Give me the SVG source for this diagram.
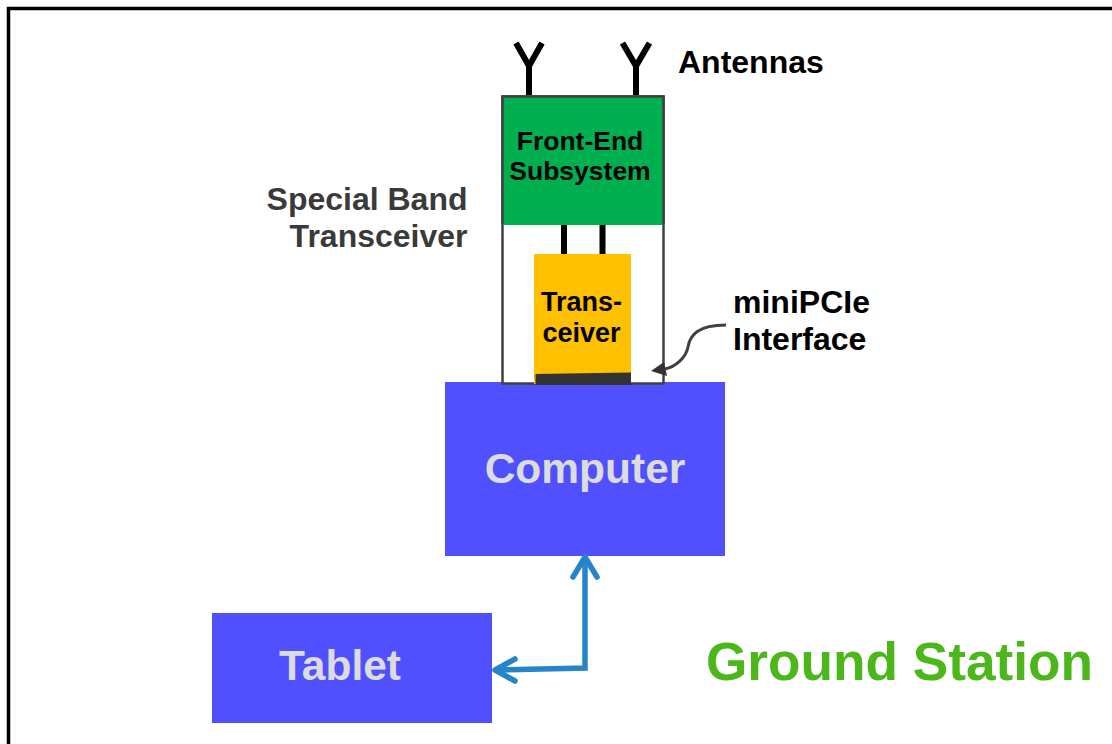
<svg xmlns="http://www.w3.org/2000/svg" width="1112" height="744" viewBox="0 0 1112 744">
<style>
text{font-family:"Liberation Sans",Arial,sans-serif;font-weight:700}
.k{fill:#000}.d{fill:#3a3a3a}.w{fill:#dcdcdc}
.ant{fill:none;stroke:#000;stroke-width:6}
.blue{fill:#5050ff}
.conn{fill:none;stroke:#2585c8;stroke-width:5.5;stroke-linejoin:miter}
.head{fill:none;stroke:#2585c8;stroke-width:5.5;stroke-linecap:round;stroke-linejoin:round}
</style>
<rect id="frame" x="8.500" y="8.500" width="1112" height="760" fill="#fff" stroke="#000" stroke-width="3.500"/>
<g id="computer"><rect x="445" y="382" width="280" height="174" class="blue"/>
<text x="585" y="483" font-size="42.500" text-anchor="middle" class="w">Computer</text></g>
<g id="special-band-transceiver">
<rect x="502.500" y="96.500" width="161" height="287" fill="#fff" stroke="#404040" stroke-width="2.500"/>
<text x="467.500" y="210" font-size="32" text-anchor="end" class="d">Special Band</text>
<text x="467.500" y="247" font-size="32" text-anchor="end" class="d">Transceiver</text>
</g>
<g id="front-end">
<rect x="503" y="97" width="160" height="128" fill="#00b050"/>
<path d="M502.500 224V96.500H663.500V224" fill="none" stroke="#404040" stroke-width="2.500"/>
<text x="580" y="150" font-size="26.500" text-anchor="middle" class="k">Front-End</text>
<text x="580" y="180" font-size="26.500" text-anchor="middle" class="k">Subsystem</text>
</g>
<g id="transceiver">
<rect x="534" y="254" width="97" height="130" fill="#ffc000"/>
<path d="M535.500 374L631 372.500V385H535.500Z" fill="#333"/>
<text x="581.500" y="311" font-size="27" text-anchor="middle" class="k">Trans-</text>
<text x="581.500" y="342" font-size="27" text-anchor="middle" class="k">ceiver</text>
</g>
<g id="antennas">
<path class="ant" d="M529 95V66M516 43L529 66L542 43M636 95V66M622.500 43L636 66L649.500 43"/>
<text x="678" y="73" font-size="32" class="k">Antennas</text>
</g>
<g id="minipcie-label">
<text x="733" y="313" font-size="32" class="k">miniPCIe</text>
<text x="733" y="350" font-size="32" class="k">Interface</text>
</g>
<g id="tablet"><rect x="212" y="613" width="280" height="110" class="blue"/>
<text x="340" y="680" font-size="42.500" text-anchor="middle" class="w">Tablet</text></g>
<g id="ground-station"><text x="706" y="680" font-size="53.200" fill="#4cb71a">Ground Station</text></g>
<g id="connectors">
<path class="ant" d="M564 225V254M602.500 225V254"/>
<path d="M726 325C698 325 690 335 688 347C686 358 675 367 665 369" fill="none" stroke="#404040" stroke-width="3"/>
<path d="M651 371L664 362L667 376Z" fill="#333"/>
<path class="conn" d="M495 670L585 668V557"/>
<path class="head" d="M585 557L573 577M585 557L597 577M495 670L515 659M495 670L515 681"/>
</g>
</svg>
